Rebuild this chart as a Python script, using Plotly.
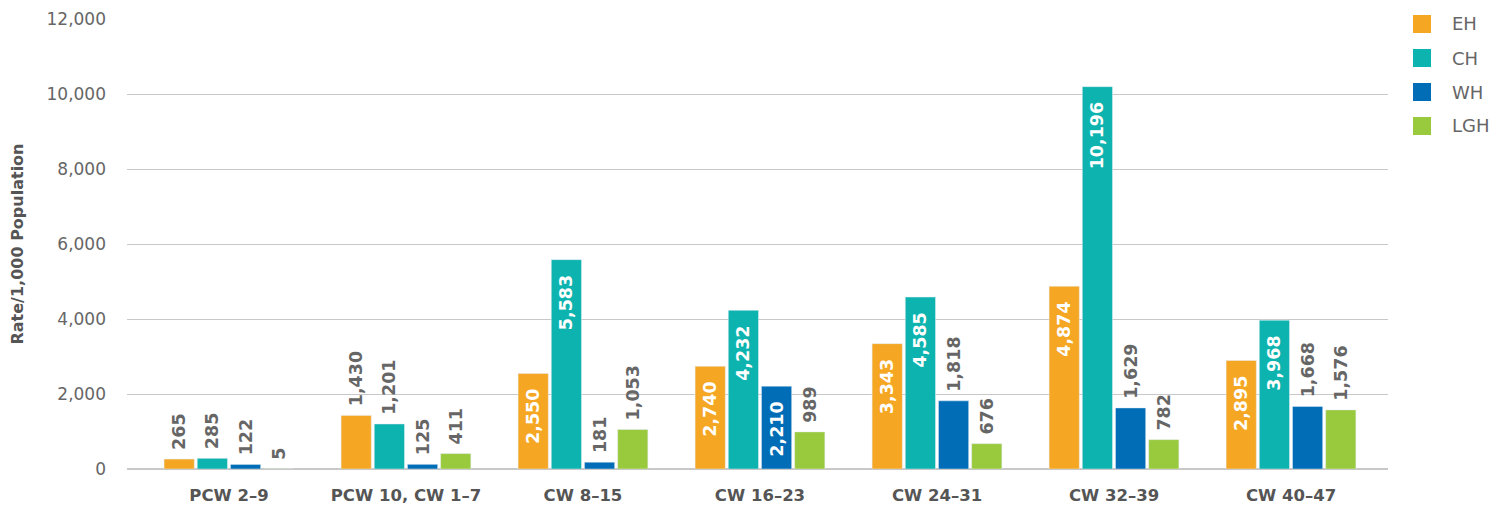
import plotly.graph_objects as go

categories = ["PCW 2–9", "PCW 10, CW 1–7", "CW 8–15", "CW 16–23", "CW 24–31", "CW 32–39", "CW 40–47"]
series_names = ["EH", "CH", "WH", "LGH"]
eh = [265, 1430, 2550, 2740, 3343, 4874, 2895]
ch = [285, 1201, 5583, 4232, 4585, 10196, 3968]
wh = [122, 125, 181, 2210, 1818, 1629, 1668]
lgh = [5, 411, 1053, 989, 676, 782, 1576]
y_ticks = [0, 2000, 4000, 6000, 8000, 10000, 12000]

colors = ["#F5A623", "#0DB3AE", "#006DB6", "#99C93C"]
values = [eh, ch, wh, lgh]
# label drawn inside the bar (white) for these
inside = [
    [False, False, True, True, True, True, True],
    [False, False, True, True, True, True, True],
    [False, False, False, True, False, False, False],
    [False, False, False, False, False, False, False],
]

FONT = "DejaVu Sans"
GRAY = "#666666"
NB = "\u00a0"

# page body has an 8px margin, so the figure is drawn 8px smaller
W, H = 1497, 500
L, T = 119, 11
PW, PH = 1261, 450
R, B = W - L - PW, H - T - PH

fig = go.Figure()
for name, vals, col, ins in zip(series_names, values, colors, inside):
    fig.add_trace(go.Bar(
        name=name, x=categories, y=vals, marker_color=col,
        text=[(f"{v:,}" + NB * 2) if i else (NB + f"{v:,}") for v, i in zip(vals, ins)],
        textposition=["inside" if i else "outside" for i in ins],
        insidetextanchor="end",
        textangle=-90,
        constraintext="none",
        insidetextfont=dict(color="white", size=17.5, family=FONT, weight="bold"),
        outsidetextfont=dict(color=GRAY, size=17.5, family=FONT, weight="bold"),
        cliponaxis=False,
        showlegend=False,
    ))

# custom legend (squares + labels) at top right, in page pixels
for i, (name, col) in enumerate(zip(series_names, colors)):
    yc = 24 + 34 * i - 8
    x_sq = 1413 - 8
    fig.add_shape(type="rect", xref="paper", yref="paper",
                  x0=(x_sq - L) / PW, x1=(x_sq + 18 - L) / PW,
                  y0=(T + PH - (yc + 9)) / PH, y1=(T + PH - (yc - 9)) / PH,
                  fillcolor=col, line_width=0)
    fig.add_annotation(xref="paper", yref="paper", x=(1450 - 8 - L) / PW,
                       y=(T + PH - yc) / PH, text=name, showarrow=False,
                       xanchor="left", yanchor="middle",
                       font=dict(size=18, color=GRAY, family=FONT))

fig.update_layout(
    width=W, height=H,
    margin=dict(l=L, r=R, t=T, b=B, autoexpand=False),
    paper_bgcolor="white", plot_bgcolor="white",
    barmode="group", bargap=0.25, bargroupgap=0.09,
    font=dict(family=FONT, color=GRAY),
    showlegend=False,
)
fig.update_xaxes(range=[-0.576, 6.548], showgrid=False, showline=False, ticks="",
                 automargin=False, ticklabelstandoff=14,
                 tickfont=dict(size=16.5, color="#555555", family=FONT, weight="bold"))
fig.update_yaxes(range=[0, 12000], tickvals=y_ticks, tickformat=",", showgrid=True,
                 automargin=False,
                 gridcolor="#C8C8C8", gridwidth=1, zeroline=True, zerolinecolor="#C8C8C8",
                 tickfont=dict(size=17, color=GRAY, family=FONT), ticklabelstandoff=20,
                 title=dict(text="Rate/1,000 Population", standoff=20,
                            font=dict(size=16, color="#555555", family=FONT, weight="bold")))

fig.write_html("out.html")
